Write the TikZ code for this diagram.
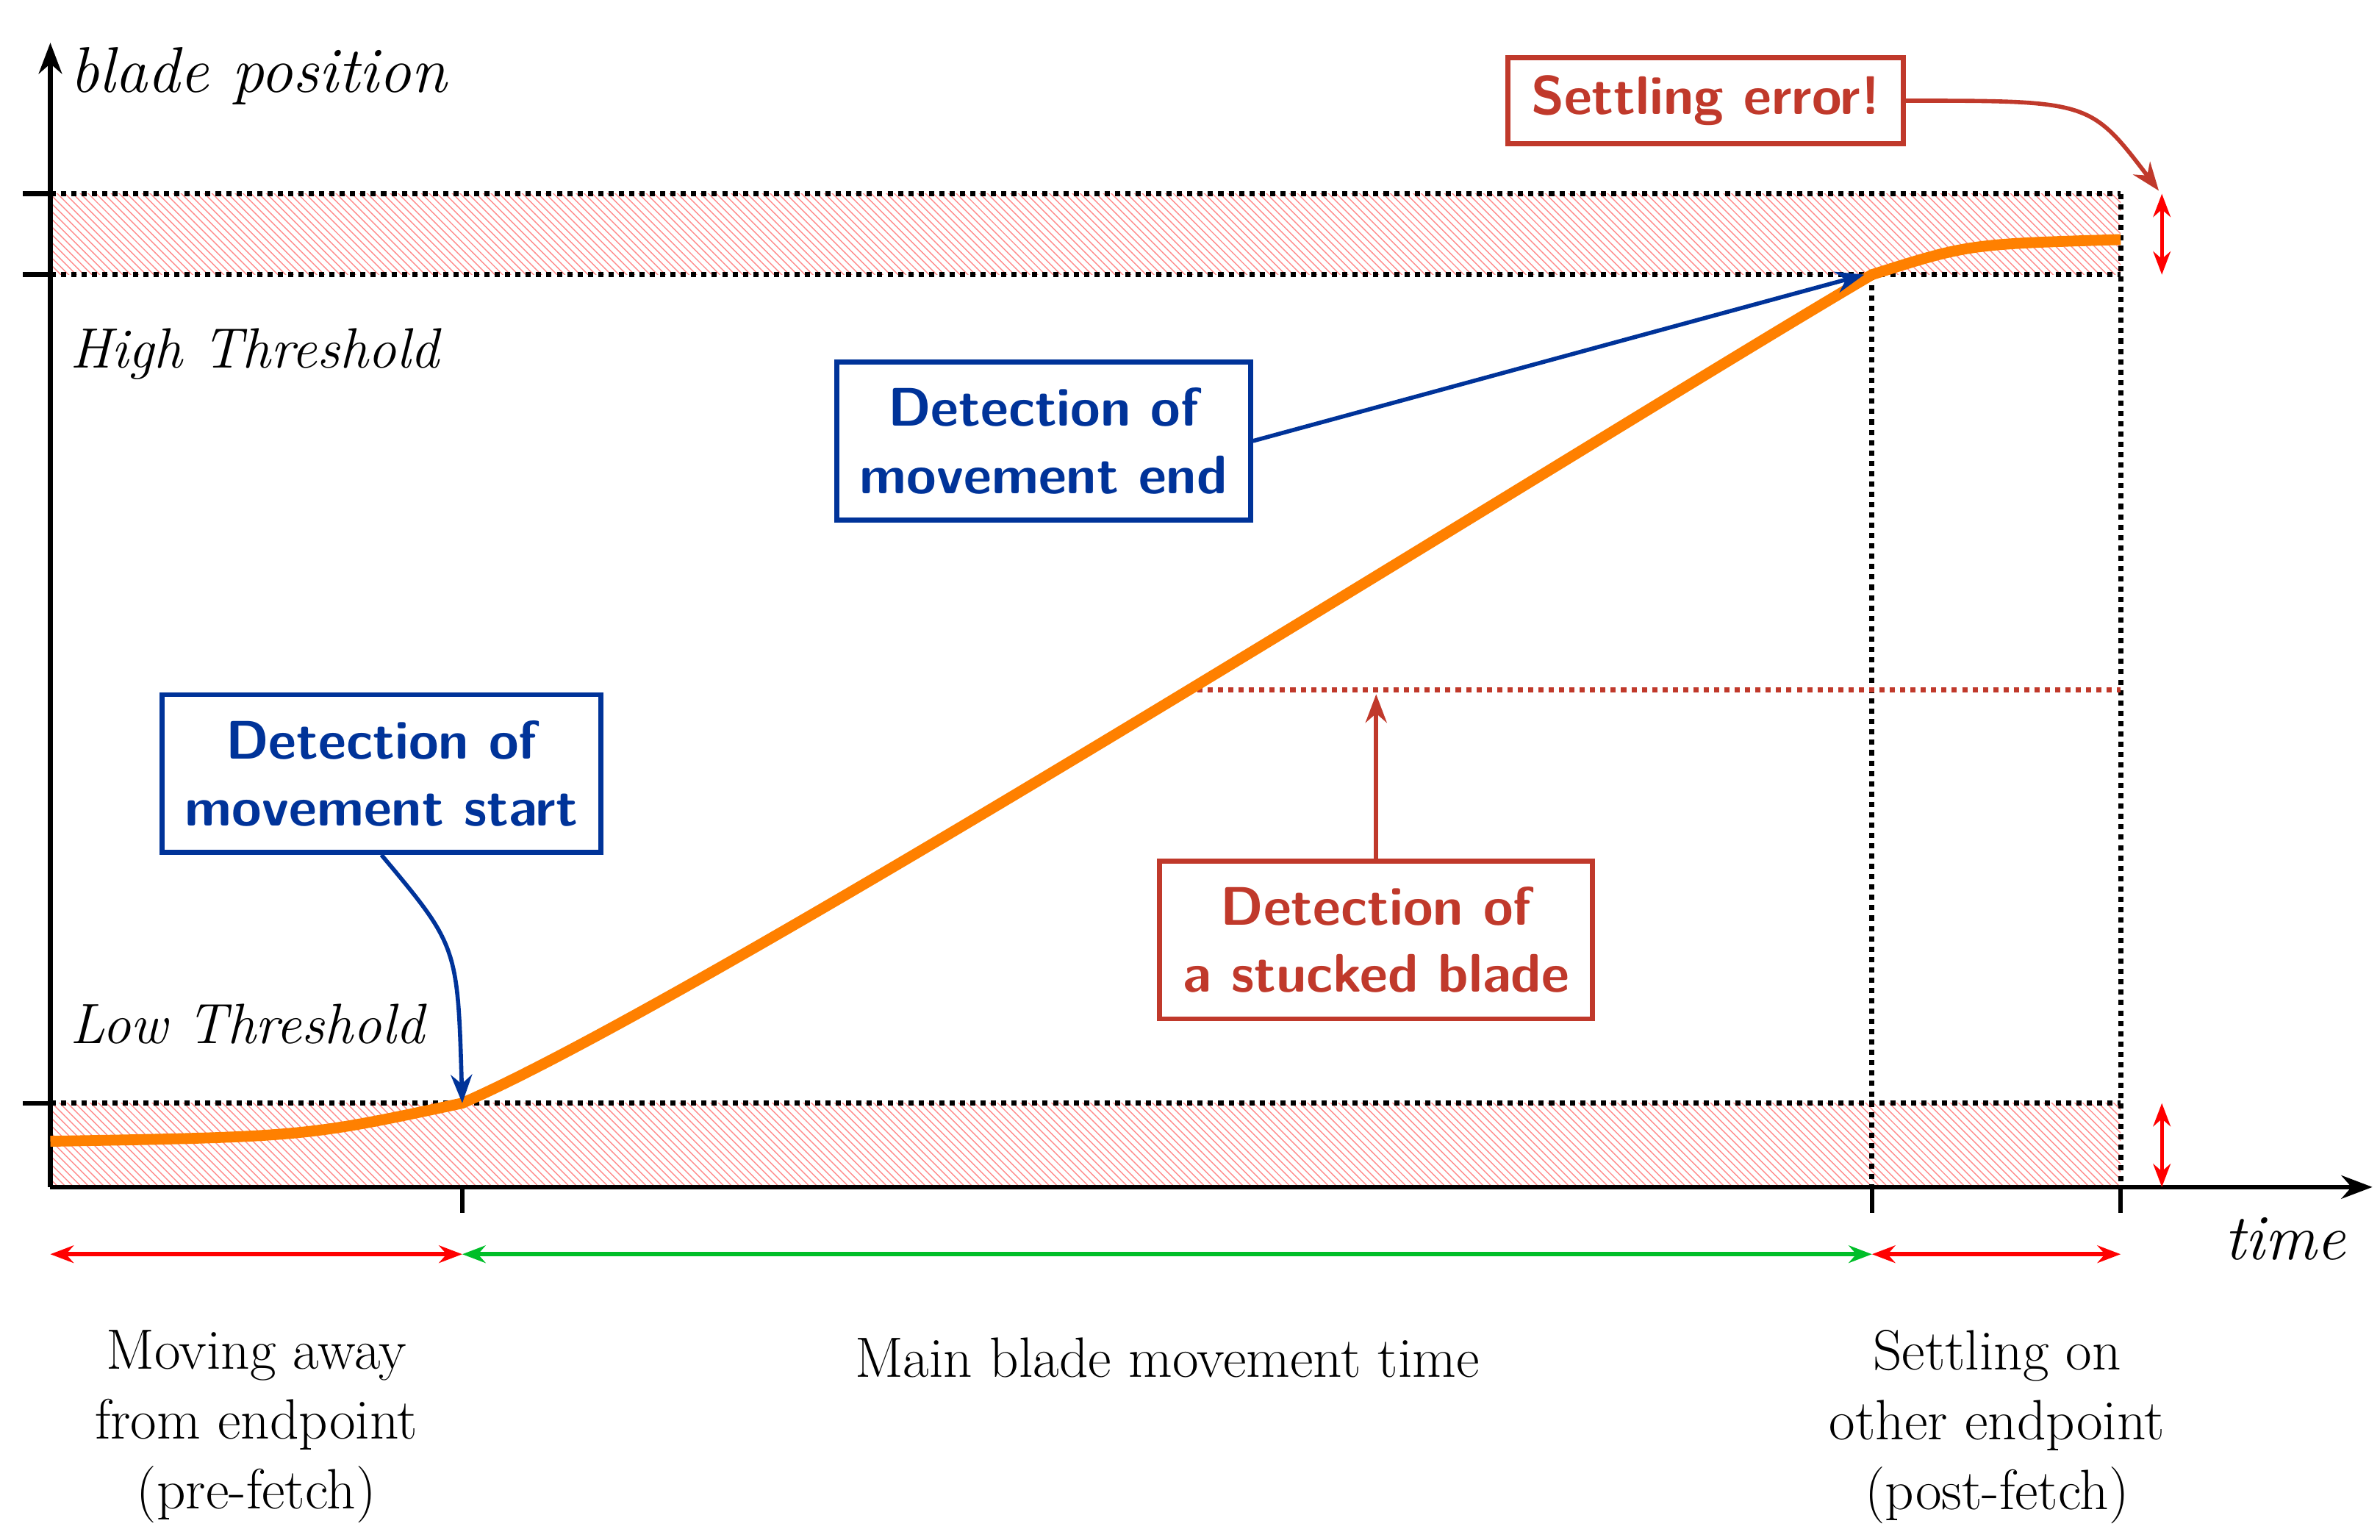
\documentclass[tikz,border=0pt]{standalone}
\usetikzlibrary{arrows.meta,patterns}
\definecolor{dblue}{RGB}{0,51,153}
\definecolor{dred}{RGB}{192,57,43}
\definecolor{orng}{RGB}{255,128,0}
\definecolor{grn}{RGB}{0,190,40}
\begin{document}
\begin{tikzpicture}[x=0.020756cm,y=-0.020756cm,
  txt/.style={font=\fontsize{22}{27}\selectfont,align=center},
  itx/.style={font=\fontsize{22}{27}\selectfont\itshape},
  box/.style={draw,line width=1.9pt,font=\fontsize{21}{26}\selectfont\sffamily\bfseries,align=center,inner xsep=9pt,inner ysep=10pt},
  dots/.style={dotted,line width=2pt},
  hatch/.style={pattern={north west lines},pattern color=red!45},
  ax/.style={line width=1.8pt,-{Stealth[length=12pt]}},
  sarr/.style={line width=1.8pt,{Stealth[length=9pt]}-{Stealth[length=9pt]}}]
\useasboundingbox (0,0) rectangle (1560,1009);
% bands
\fill[hatch] (33,127) rectangle (1390,180);
\fill[hatch] (33,723) rectangle (1390,778);
\draw[dots] (33,127) -- (1390,127);
\draw[dots] (33,180) -- (1390,180);
\draw[dots] (33,723) -- (1390,723);
\draw[dots] (1227,180) -- (1227,778);
\draw[dots] (1390,127) -- (1390,778);
\draw[dots,dred] (778,452) -- (1390,452);
% axes
\coordinate (o) at (33,778);
\coordinate (ytop) at (33,28);
\coordinate (xend) at (1555,778);
\draw[ax] (o) -- (ytop);
\draw[ax] (o) -- (xend);
\foreach \y in {127,180,723} \draw[line width=1.8pt] (15,\y) -- (33,\y);
\foreach \x in {303,1227,1390} \draw[line width=1.8pt] (\x,778) -- (\x,795);
\node[itx,anchor=west,font=\fontsize{25}{30}\selectfont\itshape] (yl) at (40,50) {blade position};
\node[itx,anchor=west,font=\fontsize{25}{30}\selectfont\itshape] (xl) at (1452,812) {time};
\node[itx,anchor=west] (ht) at (40,232) {High Threshold};
\node[itx,anchor=west] (lt) at (40,671) {Low Threshold};
% curve
\coordinate (c0) at (33,748);
\coordinate (c1) at (303,723);
\coordinate (c2) at (1227,180);
\coordinate (c3) at (1390,157);
\draw[orng,line width=4.2pt] (c0) .. controls (200,745) .. (c1)
  .. controls (470,650) and (1040,290) .. (c2) .. controls (1290,160) .. (c3);
% time arrows
\draw[sarr,red] (33,822) -- (303,822);
\draw[sarr,grn] (303,822) -- (1227,822);
\draw[sarr,red] (1227,822) -- (1390,822);
\draw[sarr,red,line width=1.3pt] (1417,127) -- (1417,180);
\draw[sarr,red,line width=1.3pt] (1417,723) -- (1417,778);
% boxes
\node[box,dblue] (bs) at (250,507) {Detection of\\movement start};
\node[box,dblue] (be) at (684,289) {Detection of\\movement end};
\node[box,dred] (bk) at (902,616) {Detection of\\a stucked blade};
\node[box,dred,inner ysep=7pt] (se) at (1118,66) {Settling error!};
\coordinate (stk) at (902,455);
\coordinate (sp) at (1415,125);
\draw[dblue,line width=1.6pt,-{Stealth[length=11pt]}] (bs.south) .. controls (300,620) .. (c1);
\draw[dblue,line width=1.6pt,-{Stealth[length=11pt]}] (be.east) -- ([xshift=-3pt]c2);
\draw[dred,line width=1.6pt,-{Stealth[length=11pt]}] (bk.north) -- (stk);
\draw[dred,line width=1.6pt,-{Stealth[length=11pt]}] (se.east) .. controls (1370,66) .. (sp);
% bottom labels
\node[txt] (l1) at (168,935) {Moving away\\from endpoint\\(pre-fetch)};
\node[txt] (l2) at (765,890) {Main blade movement time};
\node[txt] (l3) at (1309,935) {Settling on\\other endpoint\\(post-fetch)};
\end{tikzpicture}
\end{document}
